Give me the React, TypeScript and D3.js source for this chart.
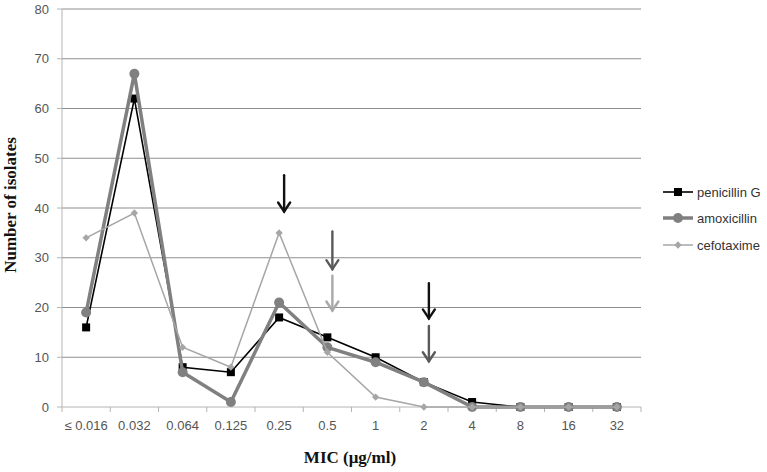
import React from "react";
import * as d3 from "d3";

const categories = ["≤ 0.016", "0.032", "0.064", "0.125", "0.25", "0.5", "1", "2", "4", "8", "16", "32"];
const penicillinG = [16, 62, 8, 7, 18, 14, 10, 5, 1, 0, 0, 0];
const amoxicillin = [19, 67, 7, 1, 21, 12, 9, 5, 0, 0, 0, 0];
const cefotaxime = [34, 39, 12, 8, 35, 11, 2, 0, 0, 0, 0, 0];
const yTicks = [0, 10, 20, 30, 40, 50, 60, 70, 80];
// breakpoint arrows: category, top value, bottom value, colour
const arrowCats = ["0.25", "0.5", "0.5", "2", "2"];
const arrowTop = [46.6, 35.3, 26.4, 24.9, 16.3];
const arrowBottom = [39.3, 27.7, 19.4, 17.8, 9.2];
const arrowColors = ["#111111", "#5a5a5a", "#a8a8a8", "#111111", "#5a5a5a"];

const W = 767, H = 472;
const left = 62, right = 641, top = 9, bottom = 407;

export default function App() {
  const x = d3.scaleBand<string>().domain(categories).range([left, right]).padding(0);
  const y = d3.scaleLinear().domain([0, 80]).range([bottom, top]);
  const cx = (i: number) => (x(categories[i]) as number) + x.bandwidth() / 2;
  const line = (vals: number[]) =>
    d3.line<number>().x((_, i) => cx(i)).y((d) => y(d))(vals) as string;
  const sq = 8;
  const diamond = d3.symbol().type(d3.symbolDiamond2).size(34)() as string;
  const tickXs = d3.range(categories.length + 1).map((i) => left + i * x.bandwidth());

  return (
    <svg width={W} height={H} style={{ position: "absolute", left: 0, top: 0, background: "#fff" }}>
      {/* gridlines */}
      {yTicks.slice(1).map((t) => (
        <line key={t} x1={left} x2={right} y1={y(t)} y2={y(t)} stroke="#8e8e8e" strokeWidth={1} />
      ))}
      {/* axes */}
      <line x1={left} x2={left} y1={top} y2={bottom} stroke="#b4b4b4" strokeWidth={1} />
      {yTicks.map((t) => (
        <line key={"yt" + t} x1={left - 5} x2={left} y1={y(t)} y2={y(t)} stroke="#b4b4b4" />
      ))}
      <line x1={left} x2={right} y1={bottom} y2={bottom} stroke="#b4b4b4" strokeWidth={1} />
      {tickXs.map((tx, i) => (
        <line key={"xt" + i} x1={tx} x2={tx} y1={bottom} y2={bottom + 5} stroke="#b4b4b4" />
      ))}
      {yTicks.map((t) => (
        <text key={"yl" + t} x={49} y={y(t)} dy="0.35em" textAnchor="end"
          fontFamily="Liberation Sans, Arial, sans-serif" fontSize={13} fill="#555">{t}</text>
      ))}
      {categories.map((c, i) => (
        <text key={"xl" + c} x={cx(i)} y={430} textAnchor="middle"
          fontFamily="Liberation Sans, Arial, sans-serif" fontSize={13} fill="#555">{c}</text>
      ))}
      {/* series */}
      <path d={line(penicillinG)} fill="none" stroke="#000" strokeWidth={1.6} />
      {penicillinG.map((v, i) => (
        <rect key={"p" + i} x={cx(i) - sq / 2} y={y(v) - sq / 2} width={sq} height={sq} fill="#000" />
      ))}
      <path d={line(amoxicillin)} fill="none" stroke="#808080" strokeWidth={3.5} strokeLinejoin="round" />
      {amoxicillin.map((v, i) => (
        <circle key={"a" + i} cx={cx(i)} cy={y(v)} r={5} fill="#808080" />
      ))}
      <path d={line(cefotaxime)} fill="none" stroke="#a6a6a6" strokeWidth={1.5} />
      {cefotaxime.map((v, i) => (
        <path key={"c" + i} d={diamond} transform={`translate(${cx(i)},${y(v)})`} fill="#a6a6a6" />
      ))}
      {/* arrows */}
      {arrowCats.map((c, i) => {
        const ax = cx(categories.indexOf(c)) + 5;
        const y1 = y(arrowTop[i]);
        const y2 = y(arrowBottom[i]);
        return (
          <g key={"ar" + i} stroke={arrowColors[i]} strokeWidth={2.4} fill="none" strokeLinecap="round">
            <line x1={ax} x2={ax} y1={y1} y2={y2} />
            <polyline points={`${ax - 6},${y2 - 9} ${ax},${y2} ${ax + 6},${y2 - 9}`} strokeLinejoin="miter" />
          </g>
        );
      })}
      {/* titles */}
      <text x={350} y={463} textAnchor="middle" fontFamily="Liberation Serif, Times New Roman, serif"
        fontWeight="bold" fontSize={17} fill="#111">MIC (μg/ml)</text>
      <text transform="translate(16,205) rotate(-90)" textAnchor="middle"
        fontFamily="Liberation Serif, Times New Roman, serif" fontWeight="bold" fontSize={17}
        fill="#111">Number of isolates</text>
      {/* legend */}
      <g fontFamily="Liberation Sans, Arial, sans-serif" fontSize={13} fill="#333">
        <line x1={663} x2={693} y1={192} y2={192} stroke="#000" strokeWidth={1.6} />
        <rect x={678 - 4} y={188} width={8} height={8} fill="#000" />
        <text x={697} y={196.5}>penicillin G</text>
        <line x1={663} x2={693} y1={218} y2={218} stroke="#808080" strokeWidth={3.5} />
        <circle cx={678} cy={218} r={5} fill="#808080" />
        <text x={697} y={222.5}>amoxicillin</text>
        <line x1={663} x2={693} y1={245} y2={245} stroke="#a6a6a6" strokeWidth={1.5} />
        <path d={diamond} transform="translate(678,245)" fill="#a6a6a6" />
        <text x={697} y={249.5}>cefotaxime</text>
      </g>
    </svg>
  );
}
